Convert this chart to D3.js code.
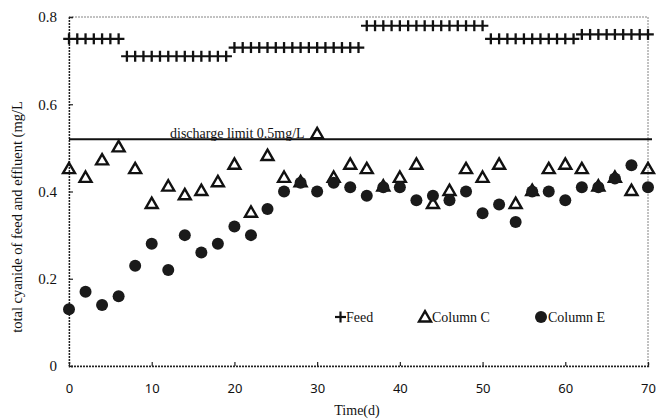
<!DOCTYPE html>
<html>
<head>
<meta charset="utf-8">
<script src="https://cdn.jsdelivr.net/npm/d3@7"></script>
<style>
  body { margin: 0; background: #fff; }
  svg { display: block; }
</style>
</head>
<body>
<svg id="chart" width="659" height="420"></svg>
<script>
// sampling days for the two columns
const days = [0,2,4,6,8,10,12,14,16,18,20,22,24,26,28,30,32,34,36,38,40,42,44,46,48,50,52,54,56,58,60,62,64,66,68,70];
const columnC = [0.45,0.43,0.47,0.50,0.45,0.37,0.41,0.39,0.40,0.42,0.46,0.35,0.48,0.43,0.42,0.53,0.43,0.46,0.45,0.41,0.43,0.46,0.37,0.40,0.45,0.43,0.46,0.37,0.40,0.45,0.46,0.45,0.41,0.43,0.40,0.45];
const columnE = [0.13,0.17,0.14,0.16,0.23,0.28,0.22,0.30,0.26,0.28,0.32,0.30,0.36,0.40,0.42,0.40,0.42,0.41,0.39,0.41,0.41,0.38,0.39,0.38,0.40,0.35,0.37,0.33,0.40,0.40,0.38,0.41,0.41,0.43,0.46,0.41];

// feed measured daily
const feedDays = [0,1,2,3,4,5,6,7,8,9,10,11,12,13,14,15,16,17,18,19,20,21,22,23,24,25,26,27,28,29,30,31,32,33,34,35,36,37,38,39,40,41,42,43,44,45,46,47,48,49,50,51,52,53,54,55,56,57,58,59,60,61,62,63,64,65,66,67,68,69,70];
const feed = [0.75,0.75,0.75,0.75,0.75,0.75,0.75,
  0.71,0.71,0.71,0.71,0.71,0.71,0.71,0.71,0.71,0.71,0.71,0.71,0.71,
  0.73,0.73,0.73,0.73,0.73,0.73,0.73,0.73,0.73,0.73,0.73,0.73,0.73,0.73,0.73,0.73,
  0.78,0.78,0.78,0.78,0.78,0.78,0.78,0.78,0.78,0.78,0.78,0.78,0.78,0.78,0.78,
  0.75,0.75,0.75,0.75,0.75,0.75,0.75,0.75,0.75,0.75,0.75,
  0.76,0.76,0.76,0.76,0.76,0.76,0.76,0.76,0.76];

const dischargeLimit = 0.52;
const xTicks = [0,10,20,30,40,50,60,70];
const yTicks = [0,0.2,0.4,0.6,0.8];

const svg = d3.select('#chart');
const plotLeft = 69, plotRight = 648, plotTop = 17, plotBottom = 366;

const x = d3.scaleLinear().domain([0, 70]).range([plotLeft, plotRight]);
const y = d3.scaleLinear().domain([0, 0.8]).range([plotBottom, plotTop]);

const serif = '"Liberation Serif", "Times New Roman", serif';

// frame
svg.append('rect')
  .attr('x', plotLeft).attr('y', plotTop)
  .attr('width', plotRight - plotLeft).attr('height', plotBottom - plotTop)
  .attr('fill', 'none')
  .attr('stroke', '#666')
  .attr('stroke-width', 0.8)
  .attr('stroke-dasharray', '2,1');

// axes
const xAxis = svg.append('g')
  .attr('transform', `translate(0,${plotBottom})`)
  .call(d3.axisBottom(x).tickValues(xTicks).tickSize(-4).tickPadding(18).tickFormat(d3.format('d')));
xAxis.select('.domain')
  .attr('stroke', '#222').attr('stroke-width', 1.3).attr('stroke-dasharray', '2,1');
xAxis.selectAll('.tick line').attr('stroke', '#222').attr('stroke-width', 1.2);
xAxis.selectAll('.tick text')
  .style('font-family', '"Noto Sans", "Open Sans", sans-serif')
  .style('font-size', '13px')
  .attr('fill', '#111');

const yAxis = svg.append('g')
  .attr('transform', `translate(${plotLeft},0)`)
  .call(d3.axisLeft(y).tickValues(yTicks).tickSize(-4).tickPadding(12)
    .tickFormat(d => d === 0 ? '0' : d3.format('.1f')(d)));
yAxis.select('.domain')
  .attr('stroke', '#222').attr('stroke-width', 1.3).attr('stroke-dasharray', '2,1');
yAxis.selectAll('.tick line').attr('stroke', '#222').attr('stroke-width', 1.2);
yAxis.selectAll('.tick text')
  .style('font-family', serif)
  .style('font-size', '15px')
  .attr('fill', '#111');

// discharge limit
svg.append('line')
  .attr('x1', x(0)).attr('x2', x(70) + 4)
  .attr('y1', y(dischargeLimit)).attr('y2', y(dischargeLimit))
  .attr('stroke', '#111').attr('stroke-width', 2);
svg.append('text')
  .attr('x', 170).attr('y', y(dischargeLimit) - 1)
  .style('font-family', serif).style('font-size', '14px')
  .attr('fill', '#111')
  .text('discharge limit 0.5mg/L');

// feed: split into runs of the same value
const feedPts = feedDays.map((d, i) => ({day: d, value: feed[i]}));
const runs = [];
feedPts.forEach(p => {
  const last = runs[runs.length - 1];
  if (last && last[0].value === p.value) last.push(p);
  else runs.push([p]);
});
svg.append('g').selectAll('line')
  .data(runs)
  .join('line')
  .attr('x1', r => x(r[0].day - 0.7))
  .attr('x2', r => x(r[r.length - 1].day + 0.7))
  .attr('y1', r => y(r[0].value))
  .attr('y2', r => y(r[0].value))
  .attr('stroke', '#111')
  .attr('stroke-width', 2.2);
svg.append('g').selectAll('line')
  .data(feedPts)
  .join('line')
  .attr('x1', d => x(d.day)).attr('x2', d => x(d.day))
  .attr('y1', d => y(d.value) - 5.5).attr('y2', d => y(d.value) + 5.5)
  .attr('stroke', '#111')
  .attr('stroke-width', 2.3);

// Column C triangles
const tri = d3.symbol().type(d3.symbolTriangle).size(62);
svg.append('g').selectAll('path')
  .data(days.map((d, i) => ({day: d, value: columnC[i]})))
  .join('path')
  .attr('d', tri)
  .attr('transform', d => `translate(${x(d.day)},${y(d.value)})`)
  .attr('fill', 'none')
  .attr('stroke', '#111')
  .attr('stroke-width', 2.4);

// Column E circles
svg.append('g').selectAll('circle')
  .data(days.map((d, i) => ({day: d, value: columnE[i]})))
  .join('circle')
  .attr('cx', d => x(d.day))
  .attr('cy', d => y(d.value))
  .attr('r', 6)
  .attr('fill', '#1a1a1a');

// legend
const legY = 317;
const leg = svg.append('g');
leg.append('line').attr('x1', 335).attr('x2', 346).attr('y1', legY).attr('y2', legY)
  .attr('stroke', '#111').attr('stroke-width', 2.2);
leg.append('line').attr('x1', 340.5).attr('x2', 340.5).attr('y1', legY - 5.5).attr('y2', legY + 5.5)
  .attr('stroke', '#111').attr('stroke-width', 2.2);
leg.append('text').attr('x', 346).attr('y', legY + 5).text('Feed');
leg.append('path').attr('d', tri)
  .attr('transform', `translate(425,${legY + 1})`)
  .attr('fill', 'none').attr('stroke', '#111').attr('stroke-width', 2.4);
leg.append('text').attr('x', 432).attr('y', legY + 5).text('Column C');
leg.append('circle').attr('cx', 541).attr('cy', legY).attr('r', 6).attr('fill', '#1a1a1a');
leg.append('text').attr('x', 548).attr('y', legY + 5).text('Column E');
leg.selectAll('text')
  .style('font-family', serif).style('font-size', '14px').attr('fill', '#111');

// axis titles
svg.append('text')
  .attr('x', 357).attr('y', 415)
  .attr('text-anchor', 'middle')
  .style('font-family', serif).style('font-size', '14px')
  .attr('fill', '#111')
  .text('Time(d)');
svg.append('text')
  .attr('transform', 'translate(22,217) rotate(-90)')
  .attr('text-anchor', 'middle')
  .style('font-family', serif).style('font-size', '14.5px')
  .attr('fill', '#111')
  .text('total cyanide of feed and effluent (mg/L');
</script>
</body>
</html>
